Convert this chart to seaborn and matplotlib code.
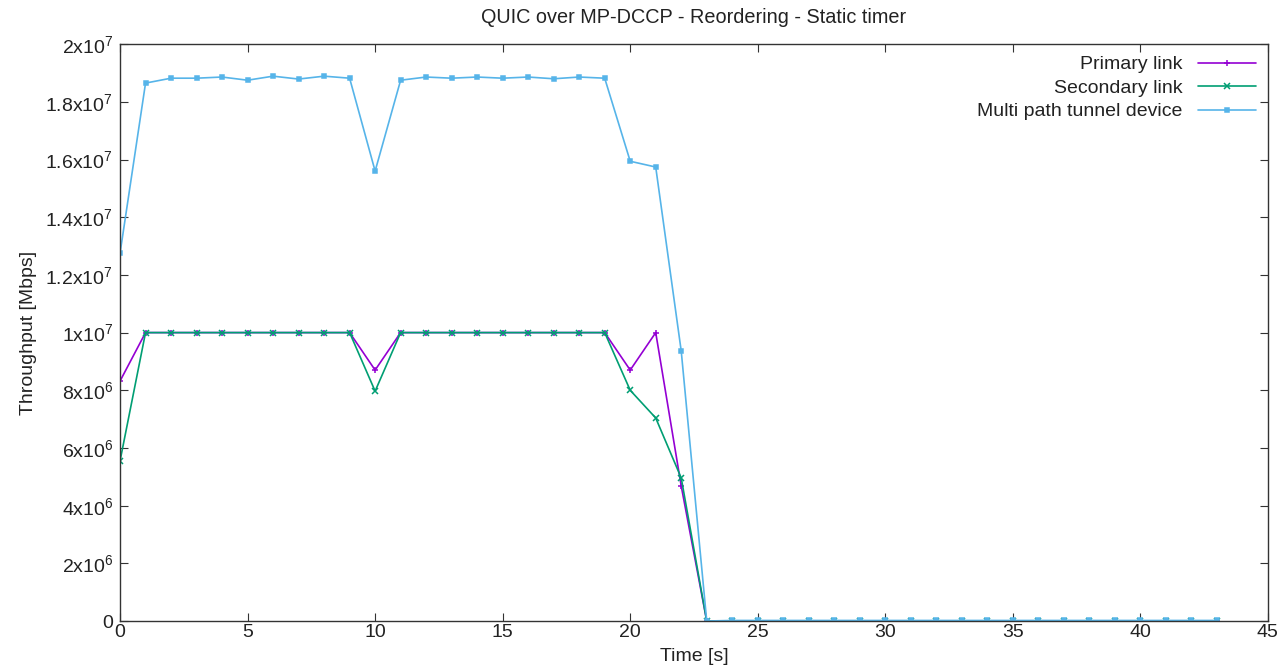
"""QUIC over MP-DCCP throughput plot (reordering, static timer)"""

import pandas as pd
import numpy as np
import matplotlib
matplotlib.use('Agg')
import matplotlib.pyplot as plt
import seaborn as sns

# Data
time_s = list(range(0, 44))

primary = [0.832e7, 1.0e7, 1.0e7, 1.0e7, 1.0e7, 1.0e7, 1.0e7, 1.0e7, 1.0e7, 1.0e7,
           0.870e7, 1.0e7, 1.0e7, 1.0e7, 1.0e7, 1.0e7, 1.0e7, 1.0e7, 1.0e7, 1.0e7,
           0.870e7, 1.0e7, 0.468e7, 0] + [0] * 20

secondary = [0.555e7, 1.0e7, 1.0e7, 1.0e7, 1.0e7, 1.0e7, 1.0e7, 1.0e7, 1.0e7, 1.0e7,
             0.797e7, 1.0e7, 1.0e7, 1.0e7, 1.0e7, 1.0e7, 1.0e7, 1.0e7, 1.0e7, 1.0e7,
             0.800e7, 0.704e7, 0.496e7, 0] + [0] * 20

tunnel = [1.275e7, 1.865e7, 1.882e7, 1.882e7, 1.886e7, 1.875e7, 1.889e7, 1.879e7, 1.889e7, 1.882e7,
          1.560e7, 1.875e7, 1.886e7, 1.882e7, 1.886e7, 1.882e7, 1.886e7, 1.880e7, 1.886e7, 1.882e7,
          1.594e7, 1.574e7, 0.936e7, 0] + [2e4] * 20

series_names = ['Primary link', 'Secondary link', 'Multi path tunnel device']
series_colors = ['#9400D3', '#009E73', '#56B4E9']
series_markers = ['+', 'x', 's']

y_ticks = [0, 2e6, 4e6, 6e6, 8e6, 1e7, 1.2e7, 1.4e7, 1.6e7, 1.8e7, 2e7]
y_tick_labels = ['0', r'$\mathregular{2x10^{6}}$', r'$\mathregular{4x10^{6}}$',
                 r'$\mathregular{6x10^{6}}$', r'$\mathregular{8x10^{6}}$',
                 r'$\mathregular{1x10^{7}}$', r'$\mathregular{1.2x10^{7}}$',
                 r'$\mathregular{1.4x10^{7}}$', r'$\mathregular{1.6x10^{7}}$',
                 r'$\mathregular{1.8x10^{7}}$', r'$\mathregular{2x10^{7}}$']
x_ticks = [0, 5, 10, 15, 20, 25, 30, 35, 40, 45]

df = pd.DataFrame({
    'time': time_s * 3,
    'throughput': primary + secondary + tunnel,
    'series': sum([[n] * len(time_s) for n in series_names], []),
})

sns.set_style('white')
plt.rcParams['font.family'] = ['Liberation Sans', 'DejaVu Sans']
plt.rcParams['mathtext.fontset'] = 'custom'
plt.rcParams['mathtext.rm'] = 'Liberation Sans'

fig = plt.figure(figsize=(12.81, 6.69), dpi=100)
ax = fig.add_axes([0.0937, 0.0717, 0.8961, 0.8623])

for name, color, marker in zip(series_names, series_colors, series_markers):
    sns.lineplot(
        data=df[df['series'] == name],
        x='time', y='throughput',
        color=color, marker=marker, markersize=3 if marker == 's' else 4.5,
        markeredgewidth=1.1, markeredgecolor=color,
        linewidth=1.2, label=name, ax=ax,
    )

ax.set_xlim(0, 45)
ax.set_ylim(0, 2e7)
ax.set_xticks(x_ticks)
ax.set_xticklabels([str(t) for t in x_ticks], fontsize=14)
ax.set_yticks(y_ticks)
ax.set_yticklabels(y_tick_labels, fontsize=14)
ax.tick_params(direction='in', length=6, width=0.8, top=True, right=True,
               bottom=True, left=True, colors='#333333', labelcolor='#222222')
ax.tick_params(axis='x', pad=2)
ax.tick_params(axis='y', pad=5)
for spine in ax.spines.values():
    spine.set_color('#333333')
    spine.set_linewidth(1.0)

ax.set_title('QUIC over MP-DCCP - Reordering - Static timer', fontsize=14.3, color='#222222', pad=15)
ax.set_xlabel('Time [s]', fontsize=14, color='#222222', labelpad=5)
ax.set_ylabel('Throughput [Mbps]', fontsize=14, color='#222222', labelpad=6)

leg = ax.legend(loc='upper right', frameon=False, markerfirst=False, fontsize=14,
                handlelength=3.0, borderaxespad=0.2, labelspacing=0.3)
for t in leg.get_texts():
    t.set_color('#222222')

fig.savefig('out.png', dpi=100)
